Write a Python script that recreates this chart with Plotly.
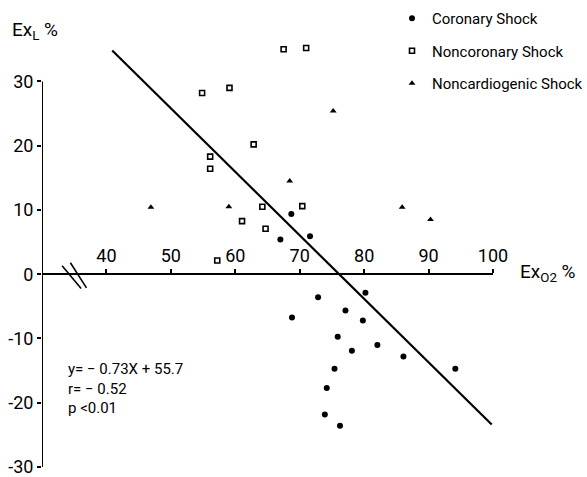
import plotly.graph_objects as go

# Coronary shock (filled dots)
COR_X = [68.7, 71.6, 67.0, 68.8, 72.85, 80.2, 77.1, 79.8, 75.9, 78.1, 82.05, 86.1, 94.15, 75.4, 74.2, 73.9, 76.25]
COR_Y = [9.35, 5.9, 5.4, -6.75, -3.6, -2.9, -5.65, -7.2, -9.75, -11.9, -11.0, -12.8, -14.7, -14.7, -17.7, -21.85, -23.6]

# Noncoronary shock (open squares)
NONCOR_X = [67.5, 71.0, 54.85, 59.1, 62.85, 56.1, 56.1, 64.2, 70.4, 61.05, 64.7, 57.2]
NONCOR_Y = [35.0, 35.2, 28.2, 29.0, 20.2, 18.3, 16.4, 10.5, 10.6, 8.26, 7.07, 2.13]

# Noncardiogenic shock (triangles)
NONCARD_X = [46.9, 59.0, 68.45, 75.2, 85.9, 90.3]
NONCARD_Y = [10.4, 10.5, 14.5, 25.4, 10.4, 8.5]

# Regression line as drawn
LINE_X = [40.9, 99.8]
LINE_Y = [34.8, -23.4]

X_TICKS = [40, 50, 60, 70, 80, 90, 100]
Y_TICKS = [-30, -20, -10, 0, 10, 20, 30]
Y_TICK_LABELS = ["-30", "-20", "-10", "0", "10", "20", "30"]

FONT = "Roboto, Liberation Sans, sans-serif"

fig = go.Figure()
fig.add_trace(go.Scatter(x=LINE_X, y=LINE_Y, mode="lines",
                         line=dict(color="black", width=2.2),
                         showlegend=False, hoverinfo="skip"))
fig.add_trace(go.Scatter(x=COR_X, y=COR_Y, mode="markers", name="Coronary Shock",
                         legendgroup="a",
                         marker=dict(symbol="circle", size=6, color="black")))
fig.add_trace(go.Scatter(x=NONCOR_X, y=NONCOR_Y, mode="markers", name="Noncoronary Shock",
                         legendgroup="b",
                         marker=dict(symbol="square-open", size=5, color="black",
                                     line=dict(width=1.6, color="black"))))
fig.add_trace(go.Scatter(x=NONCARD_X, y=NONCARD_Y, mode="markers", name="Noncardiogenic Shock",
                         legendgroup="c",
                         marker=dict(symbol="triangle-up", size=6, color="black")))

# axis decorations: vertical axis line (from -30 to 30) and break marks
shapes = [dict(type="line", xref="x", yref="y", x0=30, y0=Y_TICKS[0], x1=30, y1=Y_TICKS[-1],
               line=dict(color="black", width=2))]
BREAK = [((33.12, 1.31), (36.07, -2.23)), ((34.41, 1.78), (36.9, -2.12))]
shapes += [dict(type="line", xref="x", yref="y", x0=a[0], y0=a[1], x1=b[0], y1=b[1],
                line=dict(color="black", width=1.6)) for a, b in BREAK]

L, R, T, B = 42, 94, 30, 10
W, H = 587, 477
pw, ph = W - L - R, H - T - B
Y_MIN, Y_MAX = -30, 38

def px(xp):
    return (xp - L) / pw

def py(yp):
    return (H - B - yp) / ph

fig.update_layout(
    template="none",
    width=W, height=H,
    margin=dict(l=L, r=R, t=T, b=B, autoexpand=False),
    plot_bgcolor="white", paper_bgcolor="white",
    font=dict(family=FONT, color="black"),
    xaxis=dict(range=[30, 100], anchor="free", position=(0 - Y_MIN) / (Y_MAX - Y_MIN),
               side="top", showline=True, linecolor="black", linewidth=2,
               ticks="outside", ticklen=4, tickwidth=1.5, tickcolor="black",
               tickvals=X_TICKS, tickfont=dict(size=18), showgrid=False, zeroline=False,
               automargin=False),
    yaxis=dict(range=[Y_MIN, Y_MAX], showline=False,
               ticks="outside", ticklen=4, tickwidth=1.5, tickcolor="black",
               tickvals=Y_TICKS, ticktext=Y_TICK_LABELS, tickfont=dict(size=18),
               ticklabeloverflow="allow",
               showgrid=False, zeroline=False, automargin=False),
    legend=dict(x=px(392), y=py(2), xanchor="left", yanchor="top",
                traceorder="grouped", tracegroupgap=10, font=dict(size=15),
                bgcolor="rgba(0,0,0,0)", itemwidth=30),
    shapes=shapes,
    annotations=[
        dict(xref="paper", yref="paper", x=px(10), y=py(30), xanchor="left", yanchor="middle",
             text="Ex<sub>L</sub> %", showarrow=False, font=dict(size=19)),
        dict(xref="paper", yref="paper", x=px(518), y=py(272), xanchor="left", yanchor="middle",
             text="Ex<sub>O2</sub> %", showarrow=False, font=dict(size=19)),
        dict(xref="paper", yref="paper", x=px(66), y=py(358), xanchor="left", yanchor="top",
             align="left", text="y= − 0.73X + 55.7<br>r= − 0.52<br>p <0.01",
             showarrow=False, font=dict(size=15)),
    ],
)

fig.write_html("out.html", config={"displayModeBar": False},
               post_script="document.body.style.margin='0';")
